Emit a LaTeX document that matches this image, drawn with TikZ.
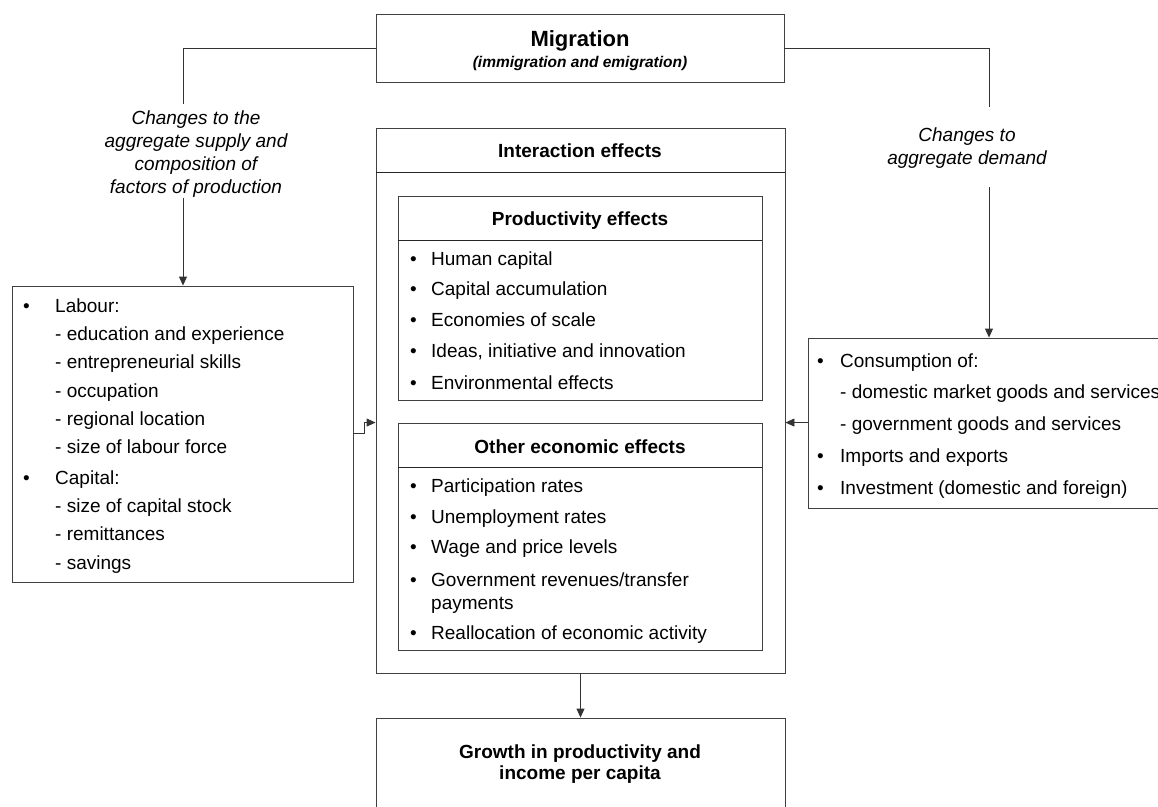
\documentclass[tikz,border=0pt]{standalone}
\usepackage{fontspec}
\setmainfont{Liberation Sans}
\usetikzlibrary{arrows.meta}
\begin{document}
\begin{tikzpicture}[x=1pt,y=-1pt,
  box/.style={draw=black!75, line width=0.9pt, rectangle, inner sep=0pt},
  conn/.style={draw=black!80, line width=0.9pt},
  arr/.style={conn, -{Triangle[length=9pt,width=8pt]}},
  txt/.style={font=\fontsize{19}{23}\selectfont, inner sep=0pt, anchor=base west},
  hdr/.style={font=\bfseries\fontsize{19}{23}\selectfont, inner sep=0pt, anchor=base},
  lbl/.style={font=\itshape\fontsize{19}{22.7}\selectfont, align=center, inner sep=0pt, anchor=north},
  divider/.style={draw=black!85, line width=0.9pt}
]
\clip (0,0) rectangle (1158,806);
\fill[white] (0,0) rectangle (1158,806);

% boxes
\node[box, minimum width=408pt, minimum height=68pt] (mig) at (580,48) {};
\node[box, minimum width=409pt, minimum height=545pt] (inter) at (580.5,400.5) {};
\node[box, minimum width=364pt, minimum height=204pt] (prod) at (580,298) {};
\node[box, minimum width=364pt, minimum height=227pt] (other) at (580,536.5) {};
\node[box, minimum width=341pt, minimum height=296pt] (labour) at (182.5,434) {};
\node[box, minimum width=372pt, minimum height=170pt] (cons) at (994,423) {};
\node[box, minimum width=409pt, minimum height=120pt] (growth) at (580.5,778) {};

% dividers
\draw[divider] (inter.north west) ++(0,45) -- ++(409,0);
\draw[divider] (prod.north west) ++(0,45) -- ++(364,0);
\draw[divider] (other.north west) ++(0,45) -- ++(364,0);

% titles
\node[font=\bfseries\fontsize{22}{26}\selectfont, inner sep=0pt, anchor=base] (migt) at (580,46) {Migration};
\node[font=\bfseries\itshape\fontsize{15.5}{18}\selectfont, inner sep=0pt, anchor=base] (migs) at (580,67.5) {(immigration and emigration)};
\node[hdr] (intert) at (580,157) {Interaction effects};
\node[hdr] (prodt) at (580,225) {Productivity effects};
\node[hdr] (othert) at (580,453) {Other economic effects};
\node[font=\bfseries\fontsize{19}{21}\selectfont, align=center, inner sep=0pt, anchor=north] (growtht) at (580,745) {Growth in productivity and\\income per capita};

% labels
\node[lbl] (lblL) at (196,111) {Changes to the\\aggregate supply and\\composition of\\factors of production};
\node[lbl] (lblR) at (967,128) {Changes to\\aggregate demand};

% labour box
\foreach \y/\t [count=\i] in {305/Labour:, 333/- education and experience, 361/- entrepreneurial skills, 390/- occupation, 418/- regional location, 446/- size of labour force, 477/Capital:, 505/- size of capital stock, 533/- remittances, 562/- savings}
  \node[txt] (lab\i) at (55,\y+7) {\t};
\node[txt] (labb1) at (23,312) {\textbullet};
\node[txt] (labb2) at (23,484) {\textbullet};

% productivity items
\foreach \y/\t [count=\i] in {258/Human capital, 288/Capital accumulation, 319/Economies of scale, 350/{Ideas, initiative and innovation}, 382/Environmental effects}
{
  \node[txt] (pb\i) at (410,\y+7) {\textbullet};
  \node[txt] (pi\i) at (431,\y+7) {\t};
}

% other items
\foreach \y [count=\i] in {485, 516, 546, 579, 632}
{
  \node[txt] (ob\i) at (410,\y+7) {\textbullet};
}
\node[txt] (oi1) at (431,492) {Participation rates};
\node[txt] (oi2) at (431,523) {Unemployment rates};
\node[txt] (oi3) at (431,553) {Wage and price levels};
\node[txt] (oi4) at (431,586) {Government revenues/transfer};
\node[txt] (oi5) at (431,609) {payments};
\node[txt] (oi6) at (431,639) {Reallocation of economic activity};

% consumption box
\node[txt] (cb1) at (817,367) {\textbullet};
\node[txt] (cb2) at (817,462) {\textbullet};
\node[txt] (cb3) at (817,494) {\textbullet};
\node[txt] (ci1) at (840,367) {Consumption of:};
\node[txt] (ci2) at (840,398) {- domestic market goods and services};
\node[txt] (ci3) at (840,430) {- government goods and services};
\node[txt] (ci4) at (840,462) {Imports and exports};
\node[txt] (ci5) at (840,494) {Investment (domestic and foreign)};

% connectors
\coordinate (l1) at (183,104);
\coordinate (l2) at (183,198);
\coordinate (r1) at (989,107);
\coordinate (r2) at (989,187);
\draw[conn] (mig.west) -| (l1);
\draw[arr] (l2) -- (l2 |- labour.north);
\draw[conn] (mig.east) -| (r1);
\draw[arr] (r2) -- (r2 |- cons.north);
\draw[arr] (labour.east |- 0,433) -- ++(11,0) |- (inter.west |- other.north);
\draw[arr] (cons.west |- other.north) -- (inter.east |- other.north);
\draw[arr] (inter.south) -- (growth.north);
\end{tikzpicture}
\end{document}
